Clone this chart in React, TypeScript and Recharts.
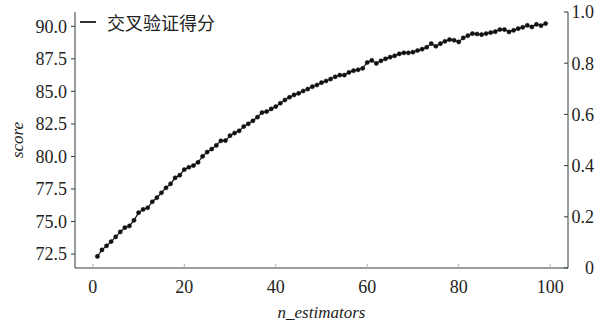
import { LineChart, Line, XAxis, YAxis, Legend } from 'recharts';

const nEstimators = [
  1, 2, 3, 4, 5, 6, 7, 8, 9, 10, 11, 12, 13, 14, 15, 16, 17, 18, 19, 20,
  21, 22, 23, 24, 25, 26, 27, 28, 29, 30, 31, 32, 33, 34, 35, 36, 37, 38, 39, 40,
  41, 42, 43, 44, 45, 46, 47, 48, 49, 50, 51, 52, 53, 54, 55, 56, 57, 58, 59, 60,
  61, 62, 63, 64, 65, 66, 67, 68, 69, 70, 71, 72, 73, 74, 75, 76, 77, 78, 79, 80,
  81, 82, 83, 84, 85, 86, 87, 88, 89, 90, 91, 92, 93, 94, 95, 96, 97, 98, 99,
];

const cvScores = [
  72.32, 72.82, 73.13, 73.46, 73.82, 74.2, 74.53, 74.66, 75.09, 75.68,
  75.93, 76.06, 76.52, 76.83, 77.21, 77.59, 77.9, 78.36, 78.56, 78.99,
  79.17, 79.3, 79.55, 80.01, 80.34, 80.57, 80.85, 81.2, 81.22, 81.6,
  81.8, 81.97, 82.3, 82.51, 82.74, 83.02, 83.37, 83.45, 83.65, 83.83,
  84.09, 84.34, 84.55, 84.73, 84.85, 85.03, 85.18, 85.36, 85.49, 85.67,
  85.8, 85.95, 86.12, 86.25, 86.25, 86.46, 86.59, 86.66, 86.77, 87.22,
  87.38, 87.15, 87.35, 87.5, 87.63, 87.73, 87.88, 87.96, 87.96, 88.01,
  88.14, 88.24, 88.39, 88.67, 88.47, 88.67, 88.85, 88.98, 88.93, 88.8,
  89.11, 89.28, 89.44, 89.41, 89.36, 89.44, 89.52, 89.59, 89.75, 89.75,
  89.57, 89.69, 89.82, 89.92, 90.08, 89.95, 90.15, 90.05, 90.21,
];

const xTicks = [0, 20, 40, 60, 80, 100];
const leftTicks = [72.5, 75, 77.5, 80, 82.5, 85, 87.5, 90];
const rightTicks = [0, 0.2, 0.4, 0.6, 0.8, 1];
const legendLabel = '交叉验证得分';

const data = nEstimators.map((n, i) => ({ n, score: cvScores[i] }));

const AXIS = '#2e3d42';
const FONT = 'Liberation Serif';
const textStyle = { fontFamily: FONT };

function BottomTick({ x, y, payload }: any) {
  return (
    <g>
      <line x1={x} x2={x} y1={y} y2={y - 4} stroke="#b0b0b0" strokeWidth={1} />
      <text x={x} y={y + 25} textAnchor="middle" fontFamily={FONT} style={textStyle} fontSize={18} fill="#222">
        {payload.value}
      </text>
    </g>
  );
}

function LeftTick({ x, y, payload }: any) {
  return (
    <g>
      <line x1={x - 4} x2={x} y1={y} y2={y} stroke={AXIS} strokeWidth={1} />
      <text x={x - 8} y={y} dy="0.35em" textAnchor="end" fontFamily={FONT} style={textStyle} fontSize={18} fill="#222">
        {payload.value.toFixed(1)}
      </text>
    </g>
  );
}

function RightTick({ x, y, payload }: any) {
  const label = payload.value === 0 ? '0' : payload.value.toFixed(1);
  return (
    <g>
      <line x1={x - 4} x2={x} y1={y} y2={y} stroke={AXIS} strokeWidth={1} />
      <text x={x + 26} y={y} dy="0.35em" textAnchor="end" fontFamily={FONT} style={textStyle} fontSize={18} fill="#222">
        {label}
      </text>
    </g>
  );
}

function AxisTitle({ viewBox, value, vertical }: any) {
  const { x, y, width, height } = viewBox;
  if (vertical) {
    const cx = 18;
    const cy = y + height / 2;
    return (
      <text x={cx} y={cy} transform={`rotate(-90 ${cx} ${cy})`} textAnchor="middle" dy="0.3em"
        fontFamily={FONT} fontStyle="italic" fontSize={17} fill="#222">
        {value}
      </text>
    );
  }
  return (
    <text x={x + width / 2} y={y + 50} textAnchor="middle"
      fontFamily={FONT} fontStyle="italic" fontSize={17} fill="#222">
      {value}
    </text>
  );
}

function LegendBox() {
  return (
    <div style={{ display: 'flex', alignItems: 'center', height: 26 }}>
      <span style={{ display: 'inline-block', width: 16, height: 1.2, background: '#333', marginRight: 11 }} />
      <span style={{ fontFamily: '"Noto Sans CJK SC", sans-serif', fontSize: 18, color: '#222' }}>
        {legendLabel}
      </span>
    </div>
  );
}

export default function App() {
  return (
    <div style={{ position: 'absolute', left: 0, top: 0 }}>
      <LineChart width={604} height={322} data={data} margin={{ top: 12, right: 6, bottom: 6, left: 10 }}>
        <XAxis
          dataKey="n"
          type="number"
          domain={[-3.9, 103.9]}
          ticks={xTicks}
          allowDataOverflow
          height={48}
          stroke={AXIS}
          tickSize={0}
          tickMargin={0}
          tickLine={false}
          tick={<BottomTick />}
          label={<AxisTitle value="n_estimators" />}
        />
        <YAxis
          yAxisId="left"
          domain={[71.43, 91.1]}
          ticks={leftTicks}
          allowDataOverflow
          width={65}
          stroke={AXIS}
          tickSize={0}
          tickMargin={0}
          tickLine={false}
          tick={<LeftTick />}
          label={<AxisTitle value="score" vertical />}
        />
        <YAxis
          yAxisId="right"
          orientation="right"
          domain={[0, 1]}
          ticks={rightTicks}
          allowDataOverflow
          width={30}
          stroke={AXIS}
          tickSize={0}
          tickMargin={0}
          tickLine={false}
          tick={<RightTick />}
        />
        <Legend
          layout="horizontal"
          verticalAlign="middle"
          align="center"
          wrapperStyle={{ left: 80, top: 9, width: 200 }}
          content={() => <LegendBox />}
        />
        <Line
          yAxisId="left"
          dataKey="score"
          name={legendLabel}
          stroke="#111"
          strokeWidth={1.2}
          dot={{ r: 2.1, fill: '#111', stroke: '#111', strokeWidth: 0.5 }}
          isAnimationActive={false}
        />
        <Line
          yAxisId="right"
          dataKey="none"
          legendType="none"
          stroke="none"
          dot={false}
          activeDot={false}
          isAnimationActive={false}
        />
      </LineChart>
    </div>
  );
}
